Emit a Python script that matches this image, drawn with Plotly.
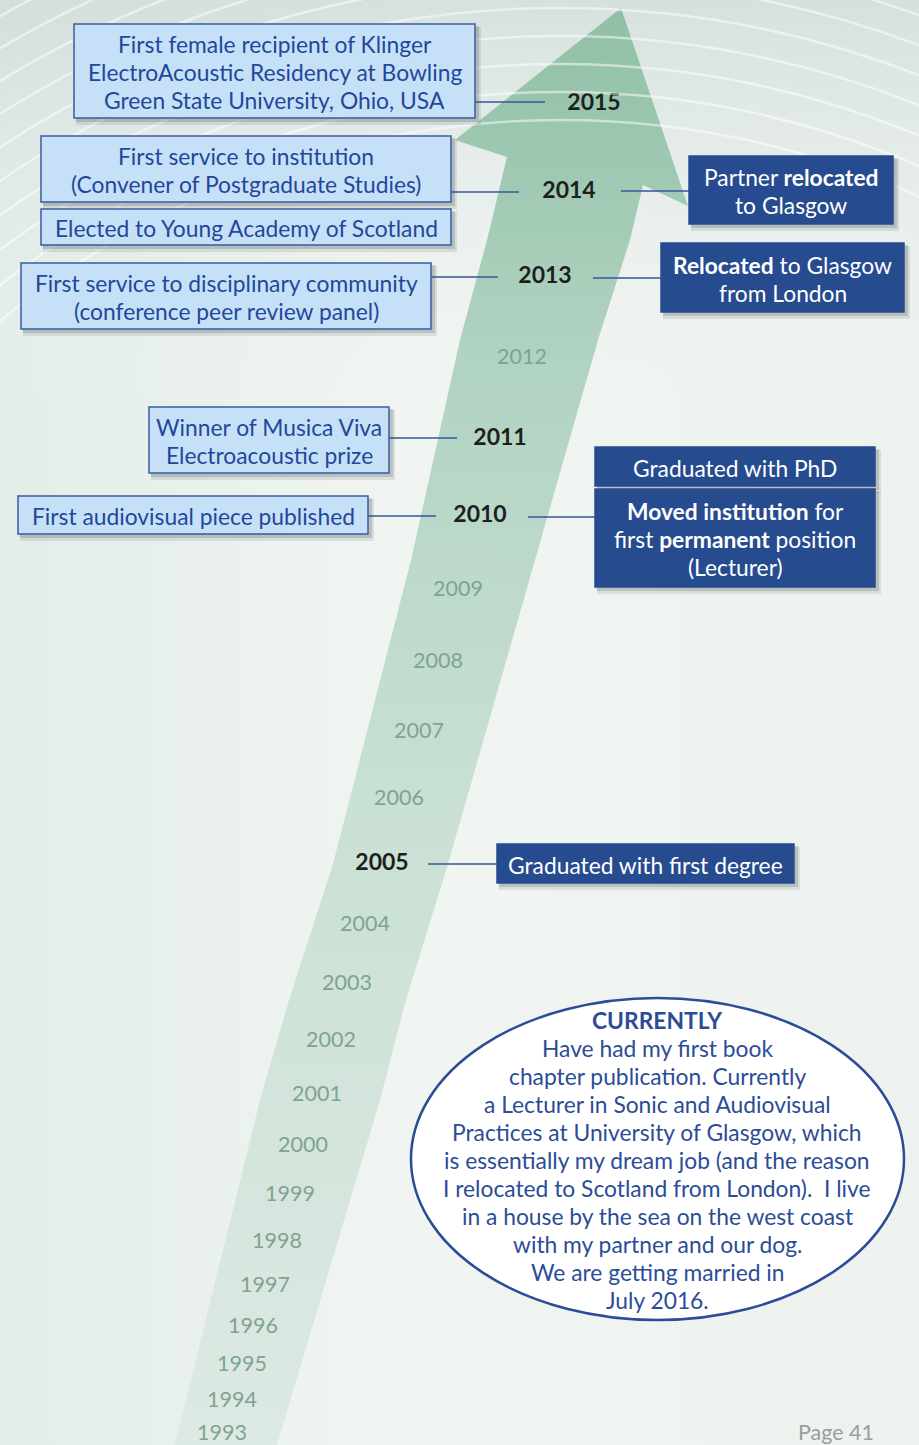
import plotly.graph_objects as go

# -------------------------------------------------
# Data
# -------------------------------------------------
years = [2015, 2014, 2013, 2012, 2011, 2010, 2009, 2008, 2007, 2006, 2005,
         2004, 2003, 2002, 2001, 2000, 1999, 1998, 1997, 1996, 1995, 1994, 1993]
highlight_years = [2015, 2014, 2013, 2011, 2010, 2005]

left_events = [
    (2015, "First female recipient of Klinger<br>ElectroAcoustic Residency at Bowling<br>Green State University, Ohio, USA"),
    (2014, "First service to institution<br>(Convener of Postgraduate Studies)"),
    (2014, "Elected to Young Academy of Scotland"),
    (2013, "First service to disciplinary community<br>(conference peer review panel)"),
    (2011, "Winner of Musica Viva<br>Electroacoustic prize"),
    (2010, "First audiovisual piece published"),
]
right_events = [
    (2014, "Partner <b>relocated</b><br>to Glasgow"),
    (2013, "<b>Relocated</b> to Glasgow<br>from London"),
    (2010, "Graduated with PhD"),
    (2010, "<b>Moved institution</b> for<br>first <b>permanent</b> position<br>(Lecturer)"),
    (2005, "Graduated with first degree"),
]
current_title = "CURRENTLY"
current_text = [
    "Have had my first book",
    "chapter publication. Currently",
    "a Lecturer in Sonic and Audiovisual",
    "Practices at University of Glasgow, which",
    "is essentially my dream job (and the reason",
    "I relocated to Scotland from London).  I live",
    "in a house by the sea on the west coast",
    "with my partner and our dog.",
    "We are getting married in",
    "July 2016.",
]
page_label = "Page 41"

# -------------------------------------------------
# Layout (pixel positions on the page)
# -------------------------------------------------
W, H = 919, 1445
FONT = "Lato"
LINE_H = 28

year_pos = [(594, 104), (569, 192), (545, 277), (522, 359), (500, 439), (480, 516),
            (458, 591), (438, 663), (419, 733), (399, 800), (382, 864), (365, 926),
            (347, 985), (331, 1042), (317, 1096), (303, 1147), (290, 1196), (277, 1243),
            (265, 1287), (253, 1328), (242, 1366), (232, 1402), (222, 1435)]

# box: x0, y0, x1, y1 ; connector: x0, x1, y (None if no connector)
left_boxes = [
    ((74, 24, 475, 118), (475, 545, 102)),
    ((41, 136, 451, 202), (451, 519, 192)),
    ((41, 209, 451, 245), None),
    ((21, 263, 431, 329), (431, 498, 277)),
    ((149, 407, 389, 473), (389, 457, 438)),
    ((18, 496, 368, 534), (368, 436, 516)),
]
right_boxes = [
    ((689, 156, 893, 224), (621, 689, 191)),
    ((661, 243, 904, 312), (593, 661, 278)),
    ((595, 447, 875, 486), None),
    ((595, 489, 875, 587), (528, 595, 517)),
    ((497, 844, 794, 883), (428, 497, 864)),
]

arrow_x = [621, 688, 643, 630, 598, 535, 448, 406, 380, 277,
           175, 260, 289, 333, 411, 460, 487, 507, 455, 621]
arrow_y = [8, 206, 185, 240, 340, 560, 864, 1000, 1100, 1445,
           1445, 1100, 1000, 864, 560, 340, 240, 157, 140, 8]

LIGHT_FILL = "#c6e1f7"
LIGHT_LINE = "#3b5ba2"
DARK_FILL = "#264b8f"
LINK = "#3556a0"
ELLIPSE_BLUE = "#2b4c97"

fig = go.Figure()

# background
fig.add_trace(go.Scatter(
    x=[0, W, W, 0, 0], y=[0, 0, H, H, 0], mode="lines", fill="toself",
    line=dict(width=0), hoverinfo="skip",
    fillgradient=dict(type="horizontal", start=0, stop=W,
                      colorscale=[[0, "#e3ede8"], [0.45, "#f1f5f2"], [1, "#edf2ef"]])
))
fig.add_trace(go.Scatter(
    x=[0, W, W, 0, 0], y=[0, 0, 420, 420, 0], mode="lines", fill="toself",
    line=dict(width=0), hoverinfo="skip",
    fillgradient=dict(type="vertical", start=0, stop=420,
                      colorscale=[[0, "rgba(205,218,214,0.75)"], [1, "rgba(240,244,242,0)"]])
))

# arrow
fig.add_trace(go.Scatter(
    x=arrow_x, y=arrow_y, mode="lines", fill="toself",
    line=dict(width=0), hoverinfo="skip",
    fillgradient=dict(type="vertical", start=0, stop=H,
                      colorscale=[[0, "#8fbfa5"], [0.25, "#b1d3c1"], [0.55, "#c9e0d4"],
                                  [1, "#dde9e3"]])
))

# year labels (plain and highlighted drawn separately for different sizes)
plain = [(p, y) for p, y in zip(year_pos, years) if y not in highlight_years]
bold = [(p, y) for p, y in zip(year_pos, years) if y in highlight_years]
fig.add_trace(go.Scatter(
    x=[p[0] for p, _ in plain], y=[p[1] for p, _ in plain], mode="text",
    text=[str(y) for _, y in plain], textposition="middle center",
    textfont=dict(family=FONT, size=21.5, color="#80a392"), hoverinfo="skip"
))
fig.add_trace(go.Scatter(
    x=[p[0] for p, _ in bold], y=[p[1] for p, _ in bold], mode="text",
    text=[f"<b>{y}</b>" for _, y in bold], textposition="middle center",
    textfont=dict(family=FONT, size=23, color="#1d1f1e"), hoverinfo="skip"
))

shapes = []

# white arcs in the background
for r in range(880, 1240, 28):
    shapes.append(dict(type="circle", xref="x", yref="y",
                       x0=560 - r, x1=560 + r, y0=1000 - r, y1=1000 + r,
                       line=dict(color="rgba(255,255,255,0.5)", width=2.5),
                       layer="above"))


def add_box(box, fill, line_color):
    x0, y0, x1, y1 = box
    shapes.append(dict(type="rect", x0=x0 + 2, y0=y0 + 3, x1=x1 + 6, y1=y1 + 7,
                       fillcolor="rgba(60,70,70,0.12)", line=dict(width=0), layer="above"))
    shapes.append(dict(type="rect", x0=x0 + 2, y0=y0 + 2, x1=x1 + 4, y1=y1 + 4,
                       fillcolor="rgba(60,70,70,0.2)", line=dict(width=0), layer="above"))
    shapes.append(dict(type="rect", x0=x0, y0=y0, x1=x1, y1=y1, fillcolor=fill,
                       line=dict(color=line_color, width=1.5), layer="above"))


def add_link(link):
    if link is None:
        return
    x0, x1, y = link
    shapes.append(dict(type="line", x0=x0, x1=x1, y0=y, y1=y,
                       line=dict(color=LINK, width=1.6), layer="above"))


annotations = []


def add_lines(lines, cx, cy, size, color, family=FONT):
    # one annotation per line so the spacing matches the page
    n = len(lines)
    for i, ln in enumerate(lines):
        annotations.append(dict(x=cx, y=cy + (i - (n - 1) / 2) * LINE_H, text=ln,
                                showarrow=False, font=dict(family=family, size=size, color=color)))


for (yr, txt), (box, link) in zip(left_events, left_boxes):
    add_link(link)
    add_box(box, LIGHT_FILL, LIGHT_LINE)
    add_lines(txt.split("<br>"), (box[0] + box[2]) / 2, (box[1] + box[3]) / 2 + 1,
              22.8, "#23479a")

for (yr, txt), (box, link) in zip(right_events, right_boxes):
    add_link(link)
    add_box(box, DARK_FILL, DARK_FILL)
    add_lines(txt.split("<br>"), (box[0] + box[2]) / 2, (box[1] + box[3]) / 2 + 1,
              22.8, "white")

# "currently" ellipse
shapes.append(dict(type="circle", x0=411, y0=998, x1=904, y1=1320, fillcolor="white",
                   line=dict(color=ELLIPSE_BLUE, width=2.5), layer="above"))
add_lines([f"<b>{current_title}</b>"] + current_text, 657, 1160, 22.8, ELLIPSE_BLUE)

annotations.append(dict(x=876, y=1432, text=page_label, showarrow=False, xanchor="right",
                        font=dict(family=FONT, size=21.5, color="#9a9e9c")))

fig.update_layout(
    width=W, height=H,
    margin=dict(l=0, r=0, t=0, b=0),
    paper_bgcolor="#eef3f0", plot_bgcolor="#eef3f0",
    showlegend=False,
    xaxis=dict(range=[0, W], visible=False, fixedrange=True),
    yaxis=dict(range=[H, 0], visible=False, fixedrange=True),
    shapes=shapes,
    annotations=annotations,
)

fig.write_html("out.html", config={"displayModeBar": False},
               post_script="document.body.style.margin='0';")
